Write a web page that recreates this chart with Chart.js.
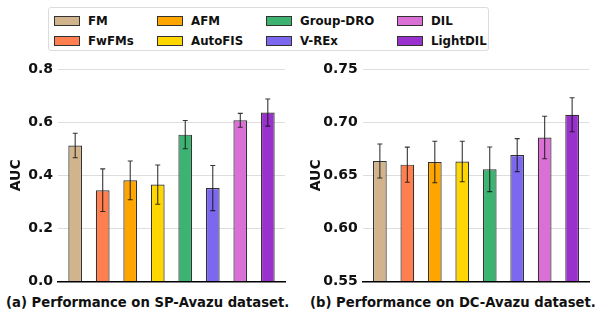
<!DOCTYPE html>
<html>
<head>
<meta charset="utf-8">
<script src="https://cdn.jsdelivr.net/npm/chart.js@4"></script>
<style>
  body { margin: 0; background: #fff; font-family: "DejaVu Sans", sans-serif; font-weight: bold; }
  #wrap { position: relative; width: 608px; height: 316px; overflow: hidden; }
  .panel { position: absolute; }
  #legend { position: absolute; left: 48px; top: 7px; width: 441px; height: 44px;
            border: 1px solid #dcdcdc; border-radius: 3px; box-sizing: border-box; }
  .item { position: absolute; font-size: 11.8px; line-height: 14px; color: #111; white-space: nowrap; }
  .sw { position: absolute; width: 24px; height: 8px; border: 1px solid #333; }
  .cap { position: absolute; top: 295px; font-size: 13.2px; color: #111; white-space: nowrap; }
</style>
</head>
<body>
<div id="wrap">
  <div id="legend"></div>
  <div class="panel" style="left:0;top:55px;width:300px;height:240px"><canvas id="spChart"></canvas></div>
  <div class="panel" style="left:300px;top:55px;width:308px;height:240px"><canvas id="dcChart"></canvas></div>
  <div class="cap" style="left:6px">(a) Performance on SP-Avazu dataset.</div>
  <div class="cap" style="left:310px">(b) Performance on DC-Avazu dataset.</div>
</div>
<script>
// models and colours
const models = ['FM', 'FwFMs', 'AFM', 'AutoFIS', 'Group-DRO', 'V-REx', 'DIL', 'LightDIL'];
const colors = ['#D2B48C', '#FF7F50', '#FFA500', '#FFD700', '#3CB371', '#7B68EE', '#DA70D6', '#9932CC'];

// SP-Avazu
const spAuc = [0.512, 0.344, 0.381, 0.365, 0.553, 0.352, 0.607, 0.636];
const spErr = [0.046, 0.080, 0.073, 0.074, 0.053, 0.085, 0.026, 0.051];
const spTicks = [0.0, 0.2, 0.4, 0.6, 0.8];

// DC-Avazu
const dcAuc = [0.6635, 0.660, 0.6625, 0.663, 0.6556, 0.669, 0.6856, 0.7069];
const dcErr = [0.016, 0.0165, 0.0195, 0.019, 0.021, 0.0155, 0.020, 0.016];
const dcTicks = [0.55, 0.60, 0.65, 0.70, 0.75];

const FONT = 'DejaVu Sans';

// legend built as html, 4 columns x 2 rows
const legendCols = [5, 108, 217, 348];
const legendRows = [6, 26];
const legend = document.getElementById('legend');
models.forEach((m, i) => {
  const col = Math.floor(i / 2);
  const row = i % 2;
  const el = document.createElement('div');
  el.className = 'item';
  el.style.left = legendCols[col] + 'px';
  el.style.top = legendRows[row] + 'px';
  el.innerHTML = `<span class="sw" style="left:0;top:2px;background:${colors[i]}"></span><span style="margin-left:34px">${m}</span>`;
  legend.appendChild(el);
});

// draws error bars using the chart's own scales
const errorBars = {
  id: 'errorBars',
  afterDatasetsDraw(chart, args, opts) {
    const ctx = chart.ctx;
    const y = chart.scales.y;
    const meta = chart.getDatasetMeta(0);
    ctx.save();
    ctx.strokeStyle = 'rgba(20,20,20,0.85)';
    ctx.lineWidth = 1.1;
    opts.values.forEach((v, i) => {
      const x = meta.data[i].x;
      const top = y.getPixelForValue(v + opts.errors[i]);
      const bot = y.getPixelForValue(v - opts.errors[i]);
      ctx.beginPath();
      ctx.moveTo(x, top); ctx.lineTo(x, bot);
      ctx.moveTo(x - 2.5, top); ctx.lineTo(x + 2.5, top);
      ctx.moveTo(x - 2.5, bot); ctx.lineTo(x + 2.5, bot);
      ctx.stroke();
    });
    ctx.restore();
  }
};

function makeChart(id, values, errors, ticks, digits, axisWidth, padRight) {
  const ctx = document.getElementById(id).getContext('2d');
  return new Chart(ctx, {
    type: 'bar',
    data: {
      datasets: [{
        data: values.map((v, i) => ({ x: i, y: v })),
        backgroundColor: colors,
        borderColor: '#333',
        borderWidth: 1.2,
        borderSkipped: 'start',
        barPercentage: 0.5,
        categoryPercentage: 1.0
      }]
    },
    options: {
      responsive: true,
      maintainAspectRatio: false,
      animation: false,
      layout: { padding: { top: 14, right: padRight, bottom: 6.2, left: 0 } },
      plugins: {
        legend: { display: false },
        tooltip: { enabled: false },
        errorBars: { values: values, errors: errors }
      },
      scales: {
        x: {
          type: 'linear',
          offset: false,
          min: -0.625,
          max: 7.625,
          ticks: { display: false },
          grid: { display: false, drawTicks: false },
          border: { display: true, color: '#000', width: 1.6, z: 2 },
          afterFit: s => { s.height = 0; }
        },
        y: {
          min: ticks[0],
          max: ticks[ticks.length - 1],
          afterBuildTicks: s => { s.ticks = ticks.map(v => ({ value: v })); },
          ticks: {
            padding: 5,
            color: '#111',
            font: { family: FONT, weight: 'bold', size: 14 },
            callback: v => v.toFixed(digits)
          },
          grid: { color: '#dedede', lineWidth: 1, drawTicks: false },
          border: { display: false },
          title: {
            display: true,
            text: 'AUC',
            color: '#111',
            padding: { top: 8, bottom: 0 },
            font: { family: FONT, weight: 'bold', size: 14 }
          },
          afterFit: s => { s.width = axisWidth; }
        }
      }
    },
    plugins: [errorBars]
  });
}

makeChart('spChart', spAuc, spErr, spTicks, 1, 58, 15);
makeChart('dcChart', dcAuc, dcErr, dcTicks, 2, 62.7, 18.7);
</script>
</body>
</html>
